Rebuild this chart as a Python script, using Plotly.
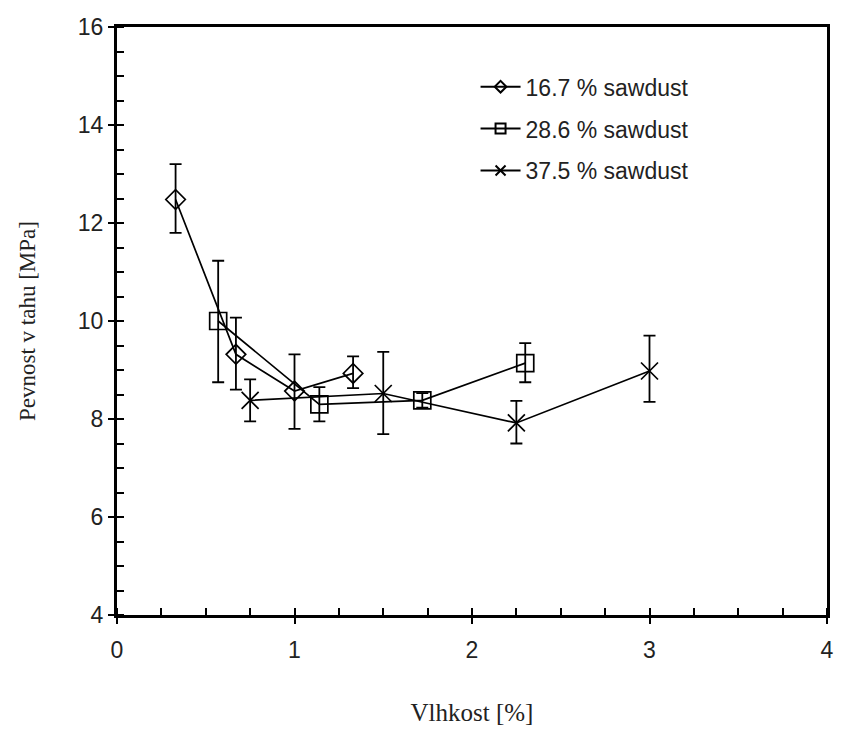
import plotly.graph_objects as go

# Data
x_167 = [0.33, 0.67, 1.00, 1.33]
y_167 = [12.48, 9.32, 8.57, 8.93]
e_hi_167 = [0.72, 0.75, 0.75, 0.35]
e_lo_167 = [0.68, 0.72, 0.77, 0.30]

x_286 = [0.57, 1.14, 1.72, 2.30]
y_286 = [10.00, 8.30, 8.38, 9.14]
e_hi_286 = [1.23, 0.35, 0.15, 0.41]
e_lo_286 = [1.25, 0.35, 0.15, 0.39]

x_375 = [0.75, 1.50, 2.25, 3.00]
y_375 = [8.38, 8.52, 7.92, 8.98]
e_hi_375 = [0.43, 0.85, 0.45, 0.72]
e_lo_375 = [0.43, 0.83, 0.42, 0.63]

names = ["16.7 % sawdust", "28.6 % sawdust", "37.5 % sawdust"]

series = [
    (x_167, y_167, e_hi_167, e_lo_167, "diamond-open", 15, 9),
    (x_286, y_286, e_hi_286, e_lo_286, "square-open", 17, 10),
    (x_375, y_375, e_hi_375, e_lo_375, "x-thin-open", 17, 10),
]

fig = go.Figure()
for i, (xs, ys, eh, el, sym, sz, lsz) in enumerate(series):
    fig.add_trace(go.Scatter(
        x=xs, y=ys, name=names[i], showlegend=False,
        mode="lines+markers",
        line=dict(color="black", width=1.7),
        marker=dict(symbol=sym, size=sz, color="black",
                    line=dict(color="black", width=1.7)),
        error_y=dict(type="data", symmetric=False, array=eh, arrayminus=el,
                     color="black", thickness=1.8, width=6),
    ))
for i, (xs, ys, eh, el, sym, sz, lsz) in enumerate(series):
    # legend-only entries with smaller symbols, as in the original legend
    fig.add_trace(go.Scatter(
        x=[None], y=[None], name=names[i], legendgroup=f"g{i}",
        mode="lines+markers",
        line=dict(color="black", width=2),
        marker=dict(symbol=sym, size=lsz, color="black",
                    line=dict(color="black", width=2)),
    ))

axis_common = dict(
    showline=True, linecolor="black", linewidth=3, mirror=True,
    showgrid=False, zeroline=False,
    ticks="outside", ticklen=6, tickwidth=2, tickcolor="black",
    tickfont=dict(family="Liberation Sans, Arial", size=23, color="#222"),
)

fig.update_xaxes(
    range=[0, 4], tickvals=[0, 1, 2, 3, 4],
    ticklabelstandoff=6,
    minor=dict(ticks="inside", ticklen=7, tickwidth=2, tickcolor="black", dtick=0.25),
    title=dict(text="Vlhkost [%]", font=dict(family="Liberation Serif, Times New Roman", size=25, color="#222"), standoff=42),
    **axis_common,
)
fig.update_yaxes(
    range=[4, 16], tickvals=[4, 6, 8, 10, 12, 14, 16],
    minor=dict(ticks="inside", ticklen=7, tickwidth=2, tickcolor="black", dtick=0.5),
    title=dict(text="Pevnost v tahu [MPa]", font=dict(family="Liberation Serif, Times New Roman", size=23, color="#222"), standoff=36),
    **axis_common,
)

fig.update_layout(
    width=843, height=731,
    margin=dict(l=117, r=9, t=27, b=115),
    paper_bgcolor="white", plot_bgcolor="white",
    showlegend=True,
    legend=dict(
        x=0.505, y=0.935, xanchor="left", yanchor="top",
        font=dict(family="Liberation Sans, Arial", size=23, color="#222"),
        bgcolor="rgba(0,0,0,0)", traceorder="grouped", tracegroupgap=9,
        itemwidth=40,
    ),
)

fig.write_html("out.html")
